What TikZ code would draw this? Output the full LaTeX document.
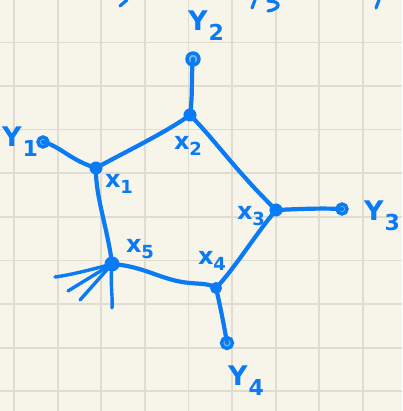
\documentclass[tikz,border=0pt]{standalone}
\usepackage{fontspec}
\setmainfont{DejaVu Sans}
\usepackage{tikz}
\definecolor{paper}{RGB}{247,245,234}
\definecolor{gridc}{RGB}{224,221,208}
\definecolor{ink}{RGB}{10,122,245}
\newcommand{\ylabtext}[1]{\fontsize{27}{27}\selectfont Y\kern1pt\raisebox{-10pt}{\fontsize{22}{22}\selectfont #1}}
\newcommand{\xlabtext}[1]{\fontsize{24}{24}\selectfont x\kern0pt\raisebox{-6pt}{\fontsize{18}{18}\selectfont #1}}
\tikzset{
  pen/.style={draw=ink, line width=4.2pt, line cap=round, line join=round},
  xdot/.style={circle, fill=ink, draw=ink, line width=1pt, minimum size=12pt, inner sep=0pt},
  ydot/.style={circle, draw=ink, line width=3.4pt, minimum size=10pt, inner sep=0pt, fill=ink!55},
  lab/.style={text=ink, inner sep=0pt, font=\bfseries}
}
\begin{document}
\begin{tikzpicture}[x=1pt, y=-1pt]
\fill[paper] (0,0) rectangle (402,411);
\useasboundingbox (0,0) rectangle (402,411);
% grid
\foreach \gx in {14,57.6,101.2,144.8,188.4,232,275.6,319.2,362.8}
  \draw[gridc, line width=1.8pt] (\gx,0) -- (\gx,411);
\foreach \gy in {42.5,86,129.6,173.2,216.8,260.4,304,347.6,391.2}
  \draw[gridc, line width=1.8pt] (0,\gy) -- (402,\gy);
% cut-off fragments at top
\draw[pen, line width=3.2pt] (127,0) -- (120,6);
\draw[pen, line width=3.2pt] (255,0) -- (252,8);
\draw[pen, line width=3.2pt] (268,1) .. controls (282,1) and (281,9) .. (268,11);
\draw[pen, line width=3.2pt] (379,0) -- (376,8);
% nodes
\node[xdot] (x1) at (96,168) {};
\node[xdot] (x2) at (190,115) {};
\node[xdot] (x3) at (276,210) {};
\node[xdot, minimum size=11pt] (x4) at (216,288) {};
\node[xdot, minimum size=14pt] (x5) at (112,264) {};
\node[ydot] (y1) at (43,142) {};
\node[ydot, minimum size=12pt] (y2) at (193,59) {};
\node[ydot] (y3) at (342,209) {};
\node[ydot, minimum size=11pt] (y4) at (227,343) {};
% labels
\node[lab] (ly2) at (206,26) {\ylabtext{2}};
\node[lab] (ly1) at (20,142) {\ylabtext{1}};
\node[lab] (ly3) at (382,216) {\ylabtext{3}};
\node[lab] (ly4) at (246,381) {\ylabtext{4}};
\node[lab] (lx1) at (119,184) {\xlabtext{1}};
\node[lab] (lx2) at (188,146) {\xlabtext{2}};
\node[lab] (lx3) at (251,216) {\xlabtext{3}};
\node[lab] (lx4) at (212,261) {\xlabtext{4}};
\node[lab] (lx5) at (140,249) {\xlabtext{5}};
% edges
\draw[pen] (y1.center) .. controls (60,146) and (70,160) .. (x1.center);
\draw[pen] (x1.center) .. controls (125,152) and (165,133) .. (x2.center);
\draw[pen] (x2.center) .. controls (215,140) and (235,170) .. (x3.center);
\draw[pen] (x3.center) .. controls (300,209) and (320,208) .. (y3.center);
\draw[pen] (x3.center) .. controls (255,235) and (235,268) .. (x4.center);
\draw[pen] (x4.center) .. controls (220,305) and (224,325) .. (y4.center);
\draw[pen] (x2.center) .. controls (193,95) and (191,75) .. (y2.center);
\draw[pen] (x1.center) .. controls (95,195) and (108,230) .. (x5.center);
\draw[pen] (x5.center) .. controls (140,266) and (155,276) .. (177,281)
  .. controls (195,285) and (208,282) .. (x4.center);
% starburst
\coordinate (s1) at (55,277);
\coordinate (s2) at (68,291);
\coordinate (s3) at (80,300);
\coordinate (s4) at (112,308);
\draw[pen, line width=3.4pt] (x5.center) .. controls (90,270) and (70,275) .. (s1);
\draw[pen, line width=3.4pt] (x5.center) -- (s2);
\draw[pen, line width=3.4pt] (x5.center) -- (s3);
\draw[pen, line width=3.4pt] (x5.center) .. controls (110,285) and (113,298) .. (s4);
\end{tikzpicture}
\end{document}
